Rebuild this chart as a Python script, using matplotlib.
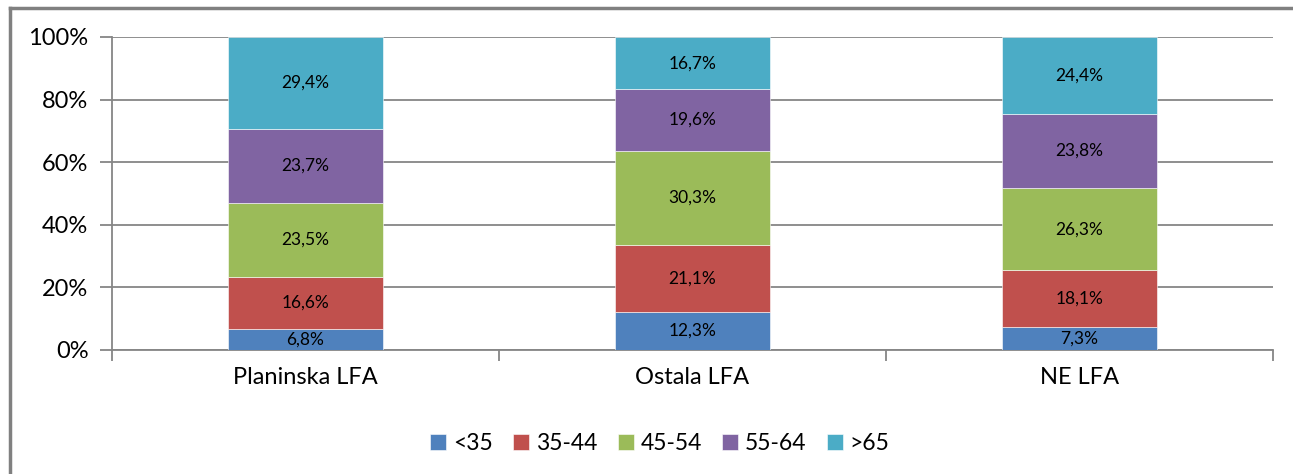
import numpy as np
import matplotlib.pyplot as plt
from matplotlib.lines import Line2D

categories = ["Planinska LFA", "Ostala LFA", "NE LFA"]
groups = ["<35", "35-44", "45-54", "55-64", ">65"]
lt35 = [6.8, 12.3, 7.3]
g35_44 = [16.6, 21.1, 18.1]
g45_54 = [23.5, 30.3, 26.3]
g55_64 = [23.7, 19.6, 23.8]
gt65 = [29.4, 16.7, 24.4]
series = [lt35, g35_44, g45_54, g55_64, gt65]

colors = ["#4F81BD", "#C0504D", "#9BBB59", "#8064A2", "#4BACC6"]
grid_c = "#868686"

plt.rcParams["font.family"] = ["Lato", "DejaVu Sans"]

fig = plt.figure(figsize=(12.93, 4.74), dpi=100)
ax = fig.add_axes([112/1293, 1-350/474, (1273-112)/1293, (350-37)/474])

x = np.arange(len(categories))
bottom = np.zeros(len(categories))
for vals, name, c in zip(series, groups, colors):
    v = np.array(vals) / 100
    ax.bar(x, v, 0.4, bottom=bottom, color=c, edgecolor="white", lw=0.4, label=name, zorder=3)
    for xi, b, h, val in zip(x, bottom, v, vals):
        ax.text(xi, b + h/2, f"{val:.1f}".replace(".", ",") + "%", ha="center", va="center",
                fontsize=12.5, color="black", zorder=4)
    bottom += v

ax.set_xlim(-0.5, 2.5)
ax.set_ylim(0, 1)
ax.set_yticks(np.arange(0, 1.01, 0.2))
ax.set_yticklabels([f"{int(round(t*100))}%" for t in np.arange(0, 1.01, 0.2)], fontsize=17)
ax.yaxis.grid(True, color=grid_c, lw=1.3, zorder=0)

ax.set_xticks(x)
ax.set_xticklabels(categories, fontsize=17)
ax.set_xticks([-0.5, 0.5, 1.5, 2.5], minor=True)
ax.tick_params(axis="x", which="major", length=0, pad=12)
ax.tick_params(axis="x", which="minor", length=8, color=grid_c, width=1.3)
ax.tick_params(axis="y", length=9, color=grid_c, width=1.3, pad=8)

for s in ["top", "right"]:
    ax.spines[s].set_visible(False)
for s in ["left", "bottom"]:
    ax.spines[s].set_color(grid_c)
    ax.spines[s].set_linewidth(1.3)

ax.legend(loc="center", bbox_to_anchor=(0.472, -0.3), ncol=5, frameon=False, fontsize=16.5,
          handlelength=0.7, handleheight=0.7, handletextpad=0.3, columnspacing=0.88)

# outer frame (left and top edges)
fig.add_artist(Line2D([10/1293, 10/1293], [0, 1-8/474], color="#808080", lw=2.5, transform=fig.transFigure))
fig.add_artist(Line2D([10/1293, 1], [1-8/474, 1-8/474], color="#808080", lw=2.5, transform=fig.transFigure))

plt.savefig("out.png", dpi=100)
